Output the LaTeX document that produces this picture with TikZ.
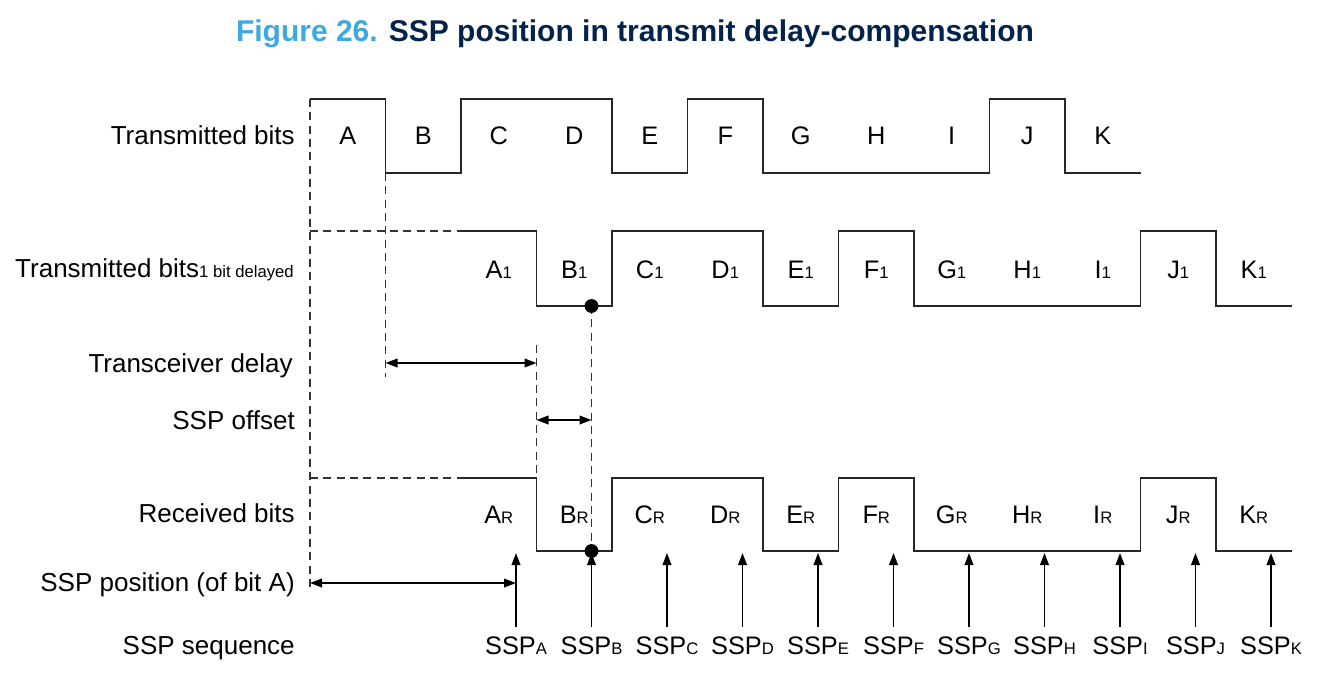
\documentclass[tikz,border=0pt]{standalone}
\usepackage{fontspec}
\setmainfont{Liberation Sans}
\usetikzlibrary{arrows.meta}
\definecolor{stblue}{HTML}{3CA9E0}
\definecolor{stnavy}{HTML}{03234B}
\newcommand{\lowtxt}[1]{{\fontsize{12.5}{14}\selectfont #1}}
\tikzset{
	wave/.style={line width=1.35pt, color=black!85},
	guide/.style={line width=1.4pt, color=black!80, dash pattern=on 6pt off 4pt},
	span/.style={line width=1.3pt, {Triangle[length=9pt,width=6.5pt]}-{Triangle[length=9pt,width=6.5pt]}},
	ssparrow/.style={line width=1.3pt, -{Triangle[length=9pt,width=6.5pt]}},
	rowlabel/.style={anchor=base east, inner sep=0pt, font=\fontsize{19.5}{22}\selectfont},
	bitlabel/.style={anchor=base, inner sep=0pt, font=\fontsize{19}{22}\selectfont},
}
\begin{document}
\begin{tikzpicture}[x=0.75pt,y=-0.75pt]
	\useasboundingbox (0,0) rectangle (1330,672);
	\node[anchor=base, inner sep=0pt, font=\fontsize{22.5}{26}\selectfont\bfseries] (title) at (635,41)
		{\textcolor{stblue}{Figure 26.} \textcolor{stnavy}{SSP position in transmit delay-compensation}};
	% row labels
	\node[rowlabel] (txlab) at (295,144) {Transmitted bits};
	\node[rowlabel] (dllab) at (294,277) {Transmitted bits\lowtxt{1 bit delayed}};
	\node[rowlabel] (tdlab) at (293,372) {Transceiver delay};
	\node[rowlabel] (oflab) at (295,429) {SSP offset};
	\node[rowlabel] (rxlab) at (295,522) {Received bits};
	\node[rowlabel] (splab) at (295,591) {SSP position (of bit A)};
	\node[rowlabel] (sqlab) at (295,654) {SSP sequence};
	% dashed guides
	\draw[guide] (310,99) -- (310,590);
	\draw[guide] (310,231) -- (461,231);
	\draw[guide] (310,478) -- (461,478);
	\draw[guide] (385.5,173) -- (385.5,377);
	\draw[guide] (536.5,345) -- (536.5,478);
	\draw[guide] (591.5,306) -- (591.5,551);
	% transmitted bits
	\draw[wave] (310,99) -| (385.5,173) -| (461,99) -| (612,173) -| (687.5,99) -| (763,173)
		-| (989.5,99) -| (1065,173) -- (1140.5,173);
	% delayed and received bits
	\foreach \hi/\lo in {231/306, 478/551}
		\draw[wave] (461,\hi) -| (536.5,\lo) -| (612,\hi) -| (763,\lo) -| (838.5,\hi) -| (914,\lo)
			-| (1140.5,\hi) -| (1216,\lo) -- (1291.5,\lo);
	\fill (591.5,306) circle (5.2pt);
	\fill (591.5,551) circle (5.2pt);
	% bit names
	\foreach \b [count=\i from 0] in {A,B,C,D,E,F,G,H,I,J,K} {
		\node[bitlabel] (tx\b) at ({347.75+\i*75.5},144) {\b};
		\node[bitlabel] (dl\b) at ({498.75+\i*75.5},278) {\b\lowtxt{1}};
		\node[bitlabel] (rx\b) at ({498.75+\i*75.5},523) {\b\lowtxt{R}};
		\coordinate (sspbot\b) at ({516+\i*75.5},627);
		\coordinate (ssptop\b) at ({516+\i*75.5},553);
		\draw[ssparrow] (sspbot\b) -- (ssptop\b);
		\node[bitlabel] (ssp\b) at ({516+\i*75.5},654) {SSP\lowtxt{\b}};
	}
	% spans
	\coordinate (tdL) at (385.5,363);
	\coordinate (tdR) at (536.5,363);
	\coordinate (ofL) at (536.5,420);
	\coordinate (ofR) at (591.5,420);
	\coordinate (spL) at (310,583);
	\coordinate (spR) at (516,583);
	\draw[span] (tdL) -- (tdR);
	\draw[span] (ofL) -- (ofR);
	\draw[span] (spL) -- (spR);
\end{tikzpicture}
\end{document}
